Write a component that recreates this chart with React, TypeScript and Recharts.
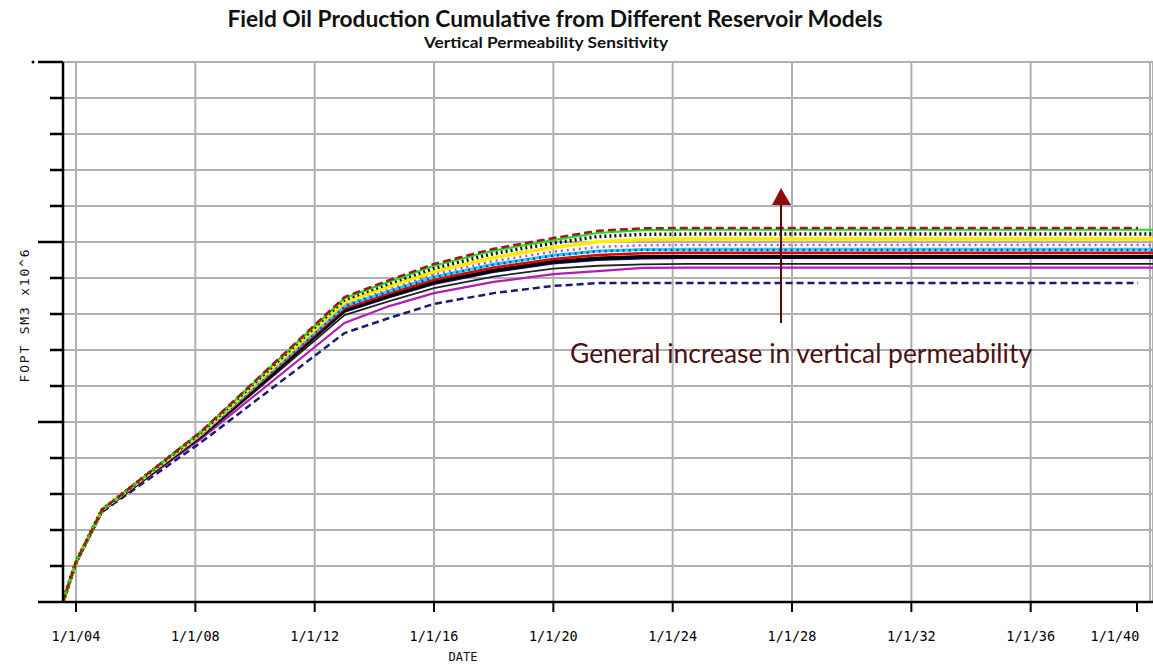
import React from 'react';
import { LineChart, Line, XAxis, YAxis, CartesianGrid } from 'recharts';

// report dates (decimal years) shared by every model run
const years = [2003.56, 2004.0, 2004.87, 2008.2, 2013.0, 2014.5, 2016, 2018, 2020, 2021.5, 2023, 2024.5, 2039.6, 2040.1];

// FOPT, SM3 x10^6, top of the fan first
const redDashed = [0, 1.11, 2.56, 4.74, 8.47, 8.94, 9.39, 9.81, 10.11, 10.31, 10.38, 10.39, 10.39, null];
const greenSolid = [0, 1.11, 2.56, 4.73, 8.44, 8.9, 9.34, 9.76, 10.05, 10.25, 10.33, 10.34, 10.34, 10.34];
const blackDotted = [0, 1.11, 2.56, 4.72, 8.4, 8.85, 9.27, 9.68, 9.97, 10.15, 10.21, 10.22, 10.22, 10.22];
const yellowSolid = [0, 1.11, 2.56, 4.7, 8.33, 8.77, 9.18, 9.57, 9.85, 10.01, 10.07, 10.08, 10.08, 10.08];
const magentaDotted = [0, 1.11, 2.56, 4.68, 8.27, 8.7, 9.1, 9.47, 9.73, 9.86, 9.91, 9.92, 9.92, 9.92];
const cyanSolid = [0, 1.11, 2.55, 4.66, 8.22, 8.64, 9.03, 9.38, 9.63, 9.75, 9.79, 9.8, 9.8, 9.8];
const blueDotted = [0, 1.11, 2.55, 4.66, 8.21, 8.63, 9.02, 9.37, 9.62, 9.74, 9.78, 9.78, 9.78, 9.78];
const redSolid = [0, 1.11, 2.55, 4.64, 8.16, 8.57, 8.95, 9.29, 9.53, 9.64, 9.69, 9.7, 9.7, 9.7];
const blackThick = [0, 1.1, 2.54, 4.62, 8.1, 8.5, 8.88, 9.21, 9.45, 9.55, 9.59, 9.6, 9.6, 9.6];
const navySolid = [0, 1.1, 2.54, 4.61, 8.07, 8.47, 8.84, 9.17, 9.41, 9.51, 9.55, 9.56, 9.56, 9.56];
const blackThin = [0, 1.1, 2.54, 4.58, 7.97, 8.36, 8.72, 9.04, 9.26, 9.34, 9.38, 9.39, 9.39, 9.39];
const magentaSolid = [0, 1.1, 2.53, 4.54, 7.75, 8.22, 8.58, 8.89, 9.11, 9.19, 9.28, 9.29, 9.29, 9.29];
const navyDashed = [0, 1.09, 2.5, 4.44, 7.47, 7.89, 8.28, 8.58, 8.78, 8.86, 8.86, 8.86, 8.86, null];

const xTicks = [2004, 2008, 2012, 2016, 2020, 2024, 2028, 2032, 2036, 2040];
const yTicks = [0, 1, 2, 3, 4, 5, 6, 7, 8, 9, 10, 11, 12, 13, 14, 15];

const series = [
  { key: 'navyDashed', values: navyDashed, stroke: '#1c1c70', width: 2.5, dash: '7 4' },
  { key: 'magentaSolid', values: magentaSolid, stroke: '#b51cb5', width: 2.2, dash: undefined },
  { key: 'blackThin', values: blackThin, stroke: '#222', width: 1.8, dash: undefined },
  { key: 'navySolid', values: navySolid, stroke: '#10107a', width: 2.5, dash: undefined },
  { key: 'blackThick', values: blackThick, stroke: '#000', width: 3.5, dash: undefined },
  { key: 'redSolid', values: redSolid, stroke: '#e00000', width: 2.5, dash: undefined },
  { key: 'cyanSolid', values: cyanSolid, stroke: '#18d8f0', width: 3, dash: undefined },
  { key: 'blueDotted', values: blueDotted, stroke: '#1a3cc8', width: 2.5, dash: '2 4' },
  { key: 'magentaDotted', values: magentaDotted, stroke: '#c845c8', width: 2.5, dash: '2 4' },
  { key: 'yellowSolid', values: yellowSolid, stroke: '#ffec00', width: 3.5, dash: undefined },
  { key: 'blackDotted', values: blackDotted, stroke: '#111', width: 3.5, dash: '2 3' },
  { key: 'greenSolid', values: greenSolid, stroke: '#22dd22', width: 2.2, dash: undefined },
  { key: 'redDashed', values: redDashed, stroke: '#9e1a1a', width: 2.5, dash: '8 4' },
];

const data = years.map((x, i) => {
  const row: Record<string, number | null> = { x };
  series.forEach(s => {
    row[s.key] = s.values[i];
  });
  return row;
});

const fmtDate = (v: number) => `1/1/${String(v % 100).padStart(2, '0')}`;

const DateTick = (props: any) => {
  const { x, y, payload } = props;
  // last label is pushed left so it stays inside the picture
  const isLast = payload.value === xTicks[xTicks.length - 1];
  return (
    <g>
      <line x1={x} y1={y} x2={x} y2={y + 10} stroke="#000" strokeWidth={2} />
      <text
        x={isLast ? x - 22 : x}
        y={y + 39}
        textAnchor="middle"
        fontFamily="DejaVu Sans Mono"
        fontSize={13.5}
        fill="#000"
      >
        {fmtDate(payload.value)}
      </text>
    </g>
  );
};

const ValueTick = (props: any) => {
  const { x, y, payload } = props;
  // long ticks every 5 units, short ones in between, no labels
  const len = payload.value % 5 === 0 ? 25 : 13;
  return (
    <g>
      <line x1={x - len} y1={y} x2={x} y2={y} stroke="#000" strokeWidth={2.5} />
      {payload.value === 15 && <circle cx={x - 30} cy={y} r={1.5} fill="#000" />}
    </g>
  );
};

export default function App() {
  return (
    <div style={{ position: 'absolute', left: 0, top: 0, width: 1153, height: 665, background: '#fff' }}>
      <LineChart width={1153} height={665} data={data} margin={{ top: 62, right: 0, left: 0, bottom: 0 }}>
        <CartesianGrid stroke="#b0b0b0" strokeWidth={2} />
        <XAxis
          type="number"
          dataKey="x"
          domain={[2003.564, 2040.1]}
          ticks={xTicks}
          allowDataOverflow
          height={63}
          tickSize={0}
          tickMargin={0}
          tickLine={false}
          tick={<DateTick />}
          axisLine={{ stroke: '#000', strokeWidth: 2.5 }}
        />
        <YAxis
          type="number"
          domain={[0, 15]}
          ticks={yTicks}
          width={63}
          tickSize={0}
          tickMargin={0}
          tickLine={false}
          tick={<ValueTick />}
          axisLine={{ stroke: '#000', strokeWidth: 2.5 }}
        />
        {series.map(s => (
          <Line
            key={s.key}
            type="linear"
            dataKey={s.key}
            stroke={s.stroke}
            strokeWidth={s.width}
            strokeDasharray={s.dash}
            dot={false}
            activeDot={false}
            connectNulls={false}
            isAnimationActive={false}
          />
        ))}
      </LineChart>
      <svg width={1153} height={665} style={{ position: 'absolute', left: 0, top: 0, pointerEvents: 'none' }}>
        <text x={555} y={27} textAnchor="middle" fontFamily="Lato" fontWeight="bold" fontSize={22} textLength={655} lengthAdjust="spacingAndGlyphs" fill="#111">
          Field Oil Production Cumulative from Different Reservoir Models
        </text>
        <text x={546} y={48} textAnchor="middle" fontFamily="Lato" fontWeight="bold" fontSize={14.5} textLength={244} lengthAdjust="spacingAndGlyphs" fill="#111">
          Vertical Permeability Sensitivity
        </text>
        <text x={463} y={661} textAnchor="middle" fontFamily="DejaVu Sans Mono" fontSize={12} fill="#111">
          DATE
        </text>
        <text
          transform="translate(29 316) rotate(-90)"
          textAnchor="middle"
          fontFamily="DejaVu Sans Mono"
          fontSize={13}
          textLength={133}
          lengthAdjust="spacing"
          fill="#111"
        >
          FOPT  SM3  x10^6
        </text>
        <line x1={781} y1={323} x2={781} y2={200} stroke="#5a0a0a" strokeWidth={2} />
        <polygon points="781,188 772,205 791,205" fill="#8b0d0d" />
        <text x={570} y={363} fontFamily="Lato" fontSize={27} textLength={462} lengthAdjust="spacingAndGlyphs" fill="#4a1212">
          General increase in vertical permeability
        </text>
      </svg>
    </div>
  );
}
